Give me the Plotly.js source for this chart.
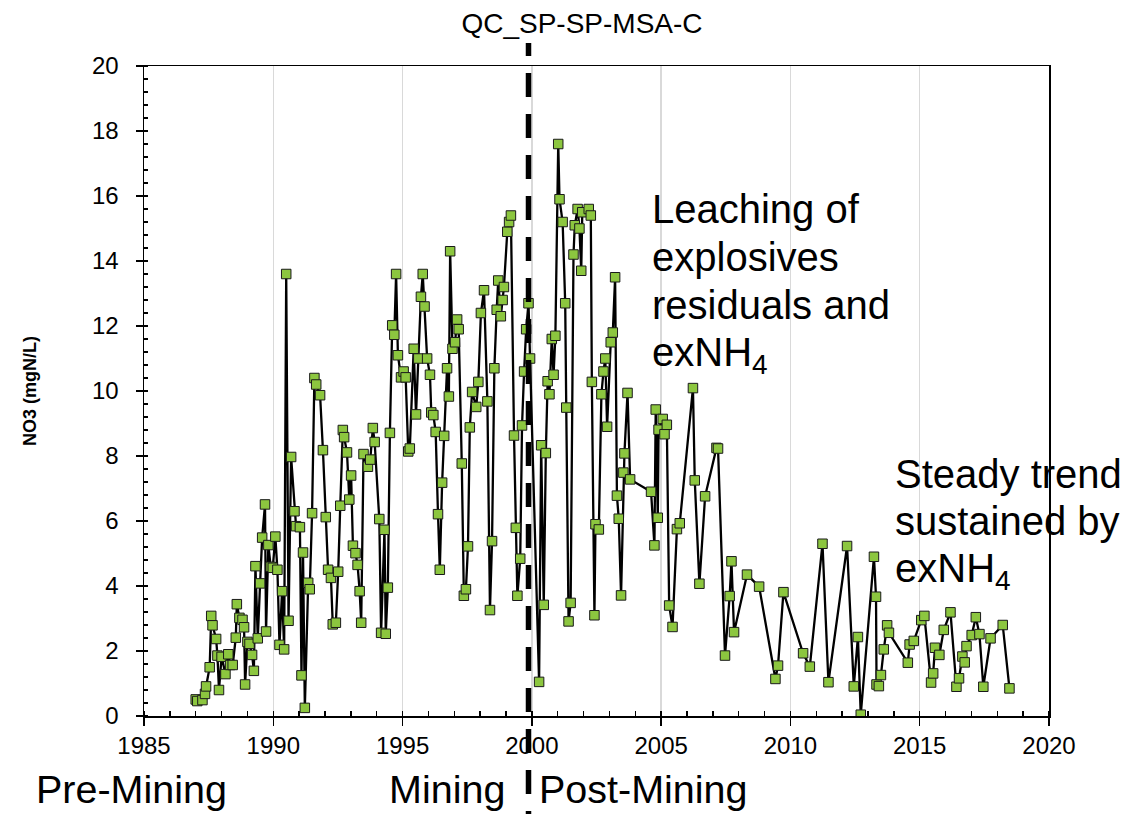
<!DOCTYPE html>
<html>
<head>
<meta charset="utf-8">
<script src="https://cdn.plot.ly/plotly-3.0.1.min.js"></script>
<style>html,body{margin:0;padding:0;background:#fff;}#chart{width:1138px;height:814px;}</style>
</head>
<body>
<div id="chart"></div>
<script>
// Sampling dates (decimal years)
var years = [
1987.00,1987.06,1987.26,1987.36,1987.40,1987.54,1987.60,1987.65,1987.79,1987.84,1987.90,
1988.00,1988.15,1988.26,1988.33,1988.43,1988.55,1988.59,1988.69,1988.81,1988.87,1988.91,
1989.00,1989.08,1989.18,1989.25,1989.31,1989.40,1989.49,1989.57,1989.68,1989.72,1989.81,1989.90,1989.98,
1990.08,1990.16,1990.24,1990.34,1990.42,1990.50,1990.59,1990.69,1990.82,1990.88,
1991.03,1991.09,1991.15,1991.22,1991.35,1991.41,1991.50,1991.59,1991.66,1991.81,1991.92,
1992.03,1992.12,1992.23,1992.30,1992.42,1992.51,1992.59,1992.69,1992.74,1992.85,1992.94,
1993.01,1993.08,1993.18,1993.26,1993.34,1993.40,1993.49,1993.66,1993.75,1993.85,1993.92,
1994.10,1994.17,1994.30,1994.35,1994.43,1994.51,1994.60,1994.68,1994.75,1994.82,1994.94,
1995.04,1995.12,1995.22,1995.28,1995.43,1995.52,1995.61,1995.71,1995.78,1995.85,1995.95,
1996.06,1996.11,1996.19,1996.28,1996.37,1996.44,1996.53,1996.61,1996.72,1996.79,1996.84,1996.93,
1997.03,1997.11,1997.17,1997.29,1997.37,1997.45,1997.53,1997.60,1997.69,1997.85,1997.93,
1998.03,1998.15,1998.28,1998.38,1998.46,1998.55,1998.64,1998.70,1998.80,1998.87,1998.92,
1999.05,1999.12,1999.19,1999.31,1999.38,1999.44,1999.55,1999.62,1999.70,1999.78,1999.87,1999.93,
2000.28,2000.36,2000.46,2000.54,2000.61,2000.68,2000.77,2000.84,2000.91,
2001.02,2001.07,2001.19,2001.29,2001.33,2001.42,2001.50,2001.61,2001.66,2001.77,2001.84,2001.91,2001.95,
2002.20,2002.28,2002.32,2002.42,2002.46,2002.59,2002.69,2002.77,2002.84,2002.91,
2003.05,2003.13,2003.22,2003.29,2003.36,2003.45,2003.54,2003.58,2003.70,2003.80,
2004.61,2004.74,2004.79,2004.87,2004.90,2005.06,2005.13,2005.22,2005.31,2005.44,2005.61,2005.72,
2006.23,2006.30,2006.48,2006.70,2007.14,2007.20,2007.47,2007.65,2007.72,2007.82,
2008.32,2008.79,2009.42,2009.52,2009.73,2010.49,2010.75,2011.24,2011.47,
2012.19,2012.45,2012.61,2012.72,2013.23,2013.31,2013.33,2013.42,2013.50,2013.61,2013.74,2013.81,
2014.54,2014.61,2014.77,2015.06,2015.18,2015.44,2015.52,2015.59,2015.76,2015.93,
2016.19,2016.42,2016.52,2016.65,2016.74,2016.81,2017.01,2017.17,2017.31,2017.46,2017.74,
2018.21,2018.47
];
// NO3 concentration (mgN/L)
var no3 = [
0.51,0.46,0.49,0.68,0.91,1.50,3.08,2.79,2.37,1.86,0.80,
1.82,1.29,1.90,1.57,1.57,2.41,3.44,3.02,2.96,2.73,0.97,
2.28,2.22,1.88,1.39,4.61,2.39,4.08,5.49,6.51,2.60,5.26,4.59,4.56,
5.52,4.50,2.19,3.84,2.05,13.6,2.93,7.97,6.30,5.84,
5.81,1.25,5.03,0.25,4.10,3.90,6.24,10.4,10.2,9.87,8.18,
6.12,4.50,4.25,2.82,2.87,4.44,6.47,8.80,8.58,8.11,6.66,
7.40,5.24,5.01,4.65,3.84,2.87,8.06,7.67,7.89,8.86,8.43,
6.06,2.56,5.73,2.53,3.95,8.71,12.02,11.73,13.6,11.1,10.42,
10.6,10.42,8.14,8.23,11.3,9.28,11.0,12.9,13.6,12.6,11.0,
10.5,9.34,9.26,8.74,6.21,4.50,7.18,8.62,10.7,9.83,14.3,11.3,
11.5,12.2,11.9,7.77,3.70,3.90,5.22,8.88,9.97,9.51,10.28,
12.4,13.1,9.68,3.26,5.38,10.7,12.5,13.4,12.3,12.8,13.2,
14.9,15.2,15.4,8.63,5.79,3.70,4.84,8.94,10.6,11.9,12.7,11.0,
1.05,8.33,3.42,8.09,10.3,9.9,11.6,10.5,11.7,
17.6,15.9,15.2,12.7,9.49,2.91,3.48,14.2,15.1,15.6,15.0,13.7,15.5,
15.6,15.4,10.28,3.10,5.90,5.74,9.9,10.6,11.0,8.9,
11.5,11.8,13.5,6.78,6.07,3.71,7.49,8.08,9.94,7.28,
6.90,5.25,9.43,6.10,8.81,9.14,8.67,8.96,3.40,2.74,5.75,5.93,
10.09,7.25,4.07,6.76,8.25,8.23,1.86,3.69,4.76,2.58,
4.35,3.98,1.14,1.55,3.81,1.93,1.52,5.30,1.04,
5.23,0.91,2.43,0.04,4.90,3.67,0.97,0.92,1.26,2.05,2.79,2.56,
1.64,2.20,2.31,2.95,3.08,1.03,1.31,2.10,1.88,2.65,
3.19,0.90,1.16,1.83,1.65,2.15,2.49,3.04,2.52,0.90,2.39,
2.80,0.85
];

var chartTitle = 'QC_SP-SP-MSA-C';
var yTitle = '<b>NO3 (mgN/L)</b>';
var noteLeaching = ['Leaching of', 'explosives', 'residuals and', 'exNH<sub>4</sub>'];
var noteSteady = ['Steady trend', 'sustained by', 'exNH<sub>4</sub>'];
var phaseLabels = ['Pre-Mining', 'Mining', 'Post-Mining'];

var FONT = 'Liberation Sans, Arial, Helvetica, sans-serif';
// pixel helpers for the fixed plot area
var L = 144, R = 1049, T = 66, B = 716;
function px(x){ return (x - L) / (R - L); }
function py(y){ return (B - y) / (B - T); }

// place a single text line so that its baseline sits at pixel row `base`
function textLine(txt, left, base, size){
  return {text: txt, xref: 'paper', yref: 'paper', x: px(left), y: py(base - 0.905 * size - 1),
          xanchor: 'left', yanchor: 'top', align: 'left', showarrow: false,
          font: {size: size, family: FONT, color: '#000'}};
}

var trace = {
  x: years, y: no3, type: 'scatter', mode: 'lines+markers',
  line: {color: '#000000', width: 2.3},
  marker: {symbol: 'square', size: 9.5, color: '#8cc63f', line: {color: '#1a1a1a', width: 1}},
  hoverinfo: 'x+y', showlegend: false
};

var annotations = [];
var leachBase = [222, 270, 318, 365];
noteLeaching.forEach(function(t, i){ annotations.push(textLine(t, 650, leachBase[i], 40)); });
var steadyBase = [487, 534, 581];
noteSteady.forEach(function(t, i){ annotations.push(textLine(t, 893, steadyBase[i], 40)); });
var phaseLeft = [34, 387, 537];
phaseLabels.forEach(function(t, i){ annotations.push(textLine(t, phaseLeft[i], 802, 39.5)); });

var layout = {
  width: 1138, height: 814,
  margin: {l: L, r: 1138 - R, t: T, b: 814 - B, pad: 0},
  paper_bgcolor: '#ffffff', plot_bgcolor: '#ffffff',
  font: {family: FONT, color: '#000000'},
  title: {text: chartTitle, font: {size: 28, family: FONT, color: '#000'},
          x: 582 / 1138, xanchor: 'center', xref: 'container',
          y: 1 - 23 / 814, yanchor: 'middle', yref: 'container'},
  xaxis: {
    range: [1985, 2020], tick0: 1985, dtick: 5, tickmode: 'linear',
    ticks: 'outside', ticklen: 8, tickwidth: 1.5, tickcolor: '#000',
    showline: true, linecolor: '#000', linewidth: 1.5, mirror: true,
    showgrid: true, gridcolor: '#d9d9d9', gridwidth: 1.5, zeroline: false,
    tickfont: {size: 24, family: FONT, color: '#000'},
    minor: {dtick: 1, tick0: 1985, ticks: 'inside', ticklen: 5, tickwidth: 1.5, tickcolor: '#000', showgrid: false},
    automargin: false, fixedrange: true
  },
  yaxis: {
    range: [0, 20], tick0: 0, dtick: 2, tickmode: 'linear',
    ticks: 'outside', ticklen: 7, tickwidth: 1.5, tickcolor: '#000',
    showline: true, linecolor: '#000', linewidth: 1.5, mirror: true,
    showgrid: false, zeroline: false,
    tickfont: {size: 24, family: FONT, color: '#000'},
    ticklabelstandoff: 12,
    minor: {dtick: 0.4, tick0: 0, ticks: 'inside', ticklen: 4, tickwidth: 1.5, tickcolor: '#000', showgrid: false},
    title: {text: yTitle, font: {size: 18, family: FONT, color: '#000'}, standoff: 50},
    automargin: false, fixedrange: true
  },
  shapes: [{
    type: 'line', xref: 'paper', yref: 'paper',
    x0: px(528.5), x1: px(528.5), y0: py(43), y1: py(814),
    line: {color: '#000', width: 5.5, dash: '13px,17px,24px,17px,24px,17px,24px,17px,24px,17px,24px,17px,24px,17px,24px,17px,24px,17px,24px,17px,24px,17px,24px,17px,24px,17px,24px,17px,24px,17px,24px,17px,24px,17px,24px,17px,24px,17px,24px,17px,24px,17px'},
    layer: 'above'
  }],
  annotations: annotations
};

Plotly.newPlot('chart', [trace], layout, {displayModeBar: false, staticPlot: true});
</script>
</body>
</html>
